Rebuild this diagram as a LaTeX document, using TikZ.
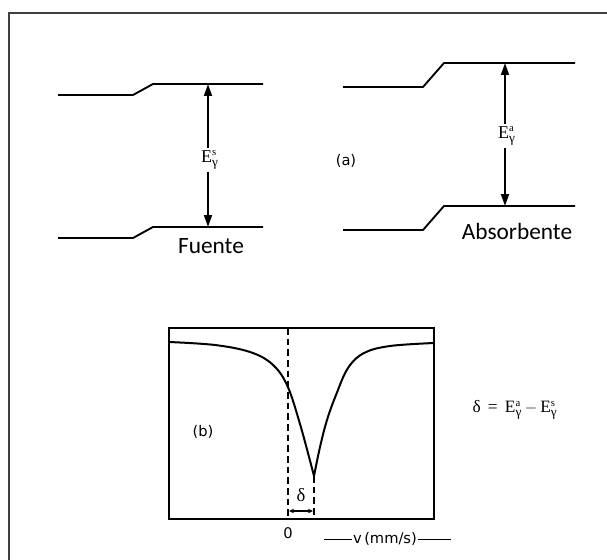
\documentclass[tikz,border=0pt]{standalone}
\usepackage{fontspec}
\setmainfont{Liberation Serif}
\newfontfamily\calibf{Carlito}
\newfontfamily\labf{DejaVu Sans}
\usetikzlibrary{arrows.meta}
\newcommand{\Eg}[1]{E$^{\hbox{\fontsize{8}{9}\selectfont #1}}_{\hbox{\fontsize{10}{11}\selectfont γ}}$}
\begin{document}
\begin{tikzpicture}[x=0.75pt,y=-0.75pt,
  level/.style={line width=1.4pt, line join=round},
  energy/.style={line width=1.4pt,{Triangle[length=9pt,width=6pt]}-{Triangle[length=9pt,width=6pt]}},
  elab/.style={fill=white, inner sep=1.5pt, font=\fontsize{13.5}{15}\selectfont},
  bigtxt/.style={font=\calibf\fontsize{17.5}{19}\selectfont},
  smalltxt/.style={font=\labf\fontsize{11}{13}\selectfont},
  dashline/.style={line width=1.4pt, dash pattern=on 5pt off 3pt},
  curve/.style={line width=1.5pt, line join=round, line cap=round}]
\useasboundingbox (0,0) rectangle (607,560);
\fill[white] (0,0) rectangle (607,560);
\draw[line width=0.9pt, black!75] (9,561) -- (9,13) -- (608,13);

% source levels
\draw[level] (58,95) -- (133,95) -- (153,84) -- (263,84);
\draw[level] (58,238) -- (133,238) -- (153,227) -- (263,227);
\coordinate (sTop) at (208,84);
\coordinate (sBot) at (208,227);
\draw[energy] (sTop) -- (sBot);
\node[elab] (Es) at (210,160) {\Eg{s}};
\node[bigtxt] (fuente) at (211,246) {Fuente};

% absorber levels
\draw[level] (343,87) -- (423,87) -- (444,63) -- (575,63);
\draw[level] (343,230) -- (423,230) -- (444,206) -- (575,206);
\coordinate (aTop) at (505,63);
\coordinate (aBot) at (505,206);
\draw[energy] (aTop) -- (aBot);
\node[elab] (Ea) at (507,136) {\Eg{a}};
\node[bigtxt] (absorb) at (517,231) {Absorbente};
\node[smalltxt] (la) at (346,161) {(a)};

% panel b
\draw[line width=1.3pt] (169,328) rectangle (434,519);
\coordinate (zTop) at (288,328);
\coordinate (zBot) at (288,519);
\coordinate (mTop) at (314,476);
\coordinate (mBot) at (314,519);
\draw[dashline] (zTop) -- (zBot);
\draw[dashline] (mTop) -- (mBot);
\draw[curve] plot[smooth, tension=0.6] coordinates {(169,342) (215,345) (250,352) (272,364) (287,385) (300,424) (314,476)};
\draw[curve] plot[smooth, tension=0.6] coordinates {(314,476) (320,447) (327,420) (336,395) (348,368) (364,353) (390,346) (434,343)};
\coordinate (dL) at (289,511);
\coordinate (dR) at (313,511);
\draw[line width=0.8pt,{Triangle[length=3.5pt,width=3pt]}-{Triangle[length=3.5pt,width=3pt]}] (dL) -- (dR);
\node[font=\fontsize{14}{15}\selectfont] (delta) at (301,495) {δ};
\node[smalltxt] (lb) at (203,432) {(b)};
\node[smalltxt] (zero) at (288,533) {0};
\node[smalltxt, inner sep=1pt] (vaxis) at (385,539) {v\,(mm/s)};
\coordinate (vL) at (324,539);
\coordinate (vR) at (451,539);
\draw[line width=0.6pt] (vL) -- (vaxis.west);
\draw[line width=0.6pt] (vaxis.east) -- (vR);
\node[font=\fontsize{13}{15}\selectfont, inner sep=0pt] (eq) at (515,410) {δ \,=\, \Eg{a}\,$-$\,\Eg{s}};
\end{tikzpicture}
\end{document}
